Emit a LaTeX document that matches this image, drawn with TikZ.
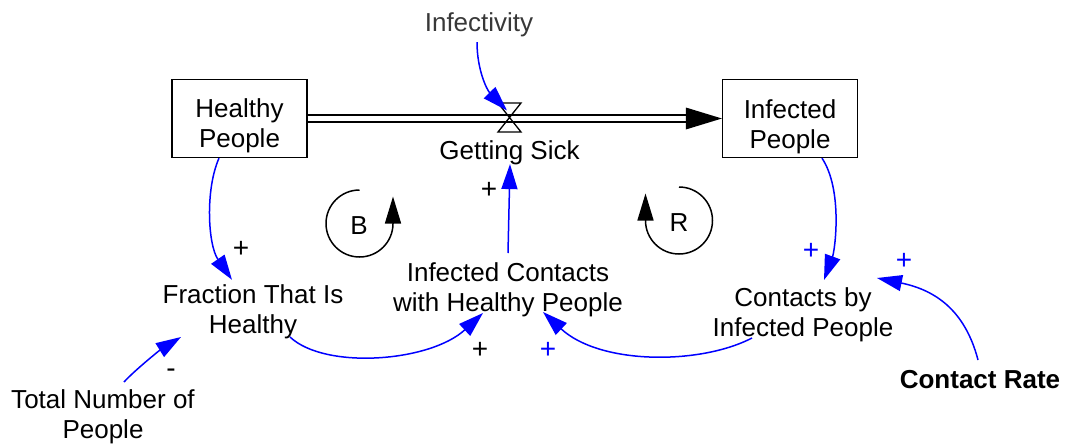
\documentclass[tikz,border=0pt]{standalone}
\usepackage{fontspec}
\setmainfont{Liberation Sans}
\usetikzlibrary{arrows.meta,calc}
\begin{document}
\begin{tikzpicture}[x=1pt,y=-1pt,
  txt/.style={font={\fontsize{26}{30}\selectfont}, align=center, inner sep=2pt},
  stock/.style={draw, line width=1.3pt, minimum width=135pt, minimum height=78pt, inner sep=0pt},
  link/.style={draw=blue, line width=1.5pt, -{Triangle[length=25pt,width=16pt]}},
  sign/.style={font={\fontsize{28}{28}\selectfont}, inner sep=0pt},
  loopar/.style={line width=1.5pt, -{Triangle[length=27pt,width=16pt]}},
  pipe/.style={double, double distance=5.2pt, line width=1.5pt, shorten >=35pt}
]
\useasboundingbox (0,0) rectangle (1065,444);

% stocks
\node[stock, label={[txt, yshift=-7pt]center:{Healthy\\People}}] (hp) at (239.5,118.5) {};
\node[stock, label={[txt, yshift=-8pt]center:{Infected\\People}}] (ip) at (790,118.5) {};

% flow
\coordinate (valve) at (510,118.5);
\draw[pipe] (hp.east) -- (ip.west);
\fill (ip.west) -- ++(-36,-11) -- ++(0,22) -- cycle;
\draw[line width=1.3pt, line join=miter] ($(valve)+(-12,-15.5)$) -- ($(valve)+(11,-15.5)$) -- ($(valve)+(-12,13.5)$) -- ($(valve)+(11,13.5)$) -- cycle;

% texts
\node[txt, anchor=base, text=black!78] (inf) at (479,32) {Infectivity};
\node[txt, anchor=base] (gs) at (509.5,159) {Getting Sick};
\node[txt] (fr) at (253,311.8) {Fraction That Is\\Healthy};
\node[txt] (ic) at (508,289.5) {Infected Contacts\\with Healthy People};
\node[txt] (cb) at (803,314.5) {Contacts by\\Infected People};
\node[txt] (tn) at (103,416.5) {Total Number of\\People};
\node[txt, anchor=base, font={\bfseries\fontsize{26}{30}\selectfont}] (cr) at (980,388) {Contact Rate};

% loops
\node[txt] (bl) at (359,226) {B};
\node[txt] (rl) at (679,223) {R};
\draw[loopar] ($(bl)+(0.5,-36)$) arc[start angle=-90, end angle=-360, radius=33.5] -- ++(0,-27);
\draw[loopar] ($(rl)+(0,-36)$) arc[start angle=-90, end angle=180, radius=33.5] -- ++(0,-27);

% links
\draw[link] ($(hp.south)+(-20.5,0)$) .. controls (205,190) and (208,245) .. ($(fr)+(-21,-32)$);
\draw[link] ($(inf.south)+(-2,2.5)$) .. controls (477,70) and (487,90) .. ($(valve)+(-3,-8)$);
\draw[link] ($(ic)+(0,-36.5)$) -- ($(gs.south)+(0.5,-2.5)$);
\draw[link] ($(fr)+(37,25.2)$) .. controls (325,370) and (430,362) .. ($(ic)+(-25,23.5)$);
\draw[link] ($(cb)+(-51,23.5)$) .. controls (700,365) and (600,365) .. ($(ic)+(35,22.5)$);
\draw[link] ($(ip.south)+(32,0)$) .. controls (843,190) and (835,250) .. ($(cb)+(21,-34.5)$);
\draw[link] ($(cr.base)+(-2,-28)$) .. controls (965,310) and (935,290) .. ($(cb)+(74,-36.5)$);
\draw[link] ($(tn)+(21,-34.5)$) .. controls (135,370) and (160,350) .. ($(fr)+(-72,25.2)$);

% polarity signs
\node[sign] (s1) at (241,249) {+};
\node[sign] (s2) at (489,190) {+};
\node[sign] (s3) at (480,350) {+};
\node[sign, text=blue] (s4) at (548,350) {+};
\node[sign, text=blue] (s5) at (811,251) {+};
\node[sign, text=blue] (s6) at (904,261) {+};
\node[sign] (s7) at (171,373) {-};
\end{tikzpicture}
\end{document}
